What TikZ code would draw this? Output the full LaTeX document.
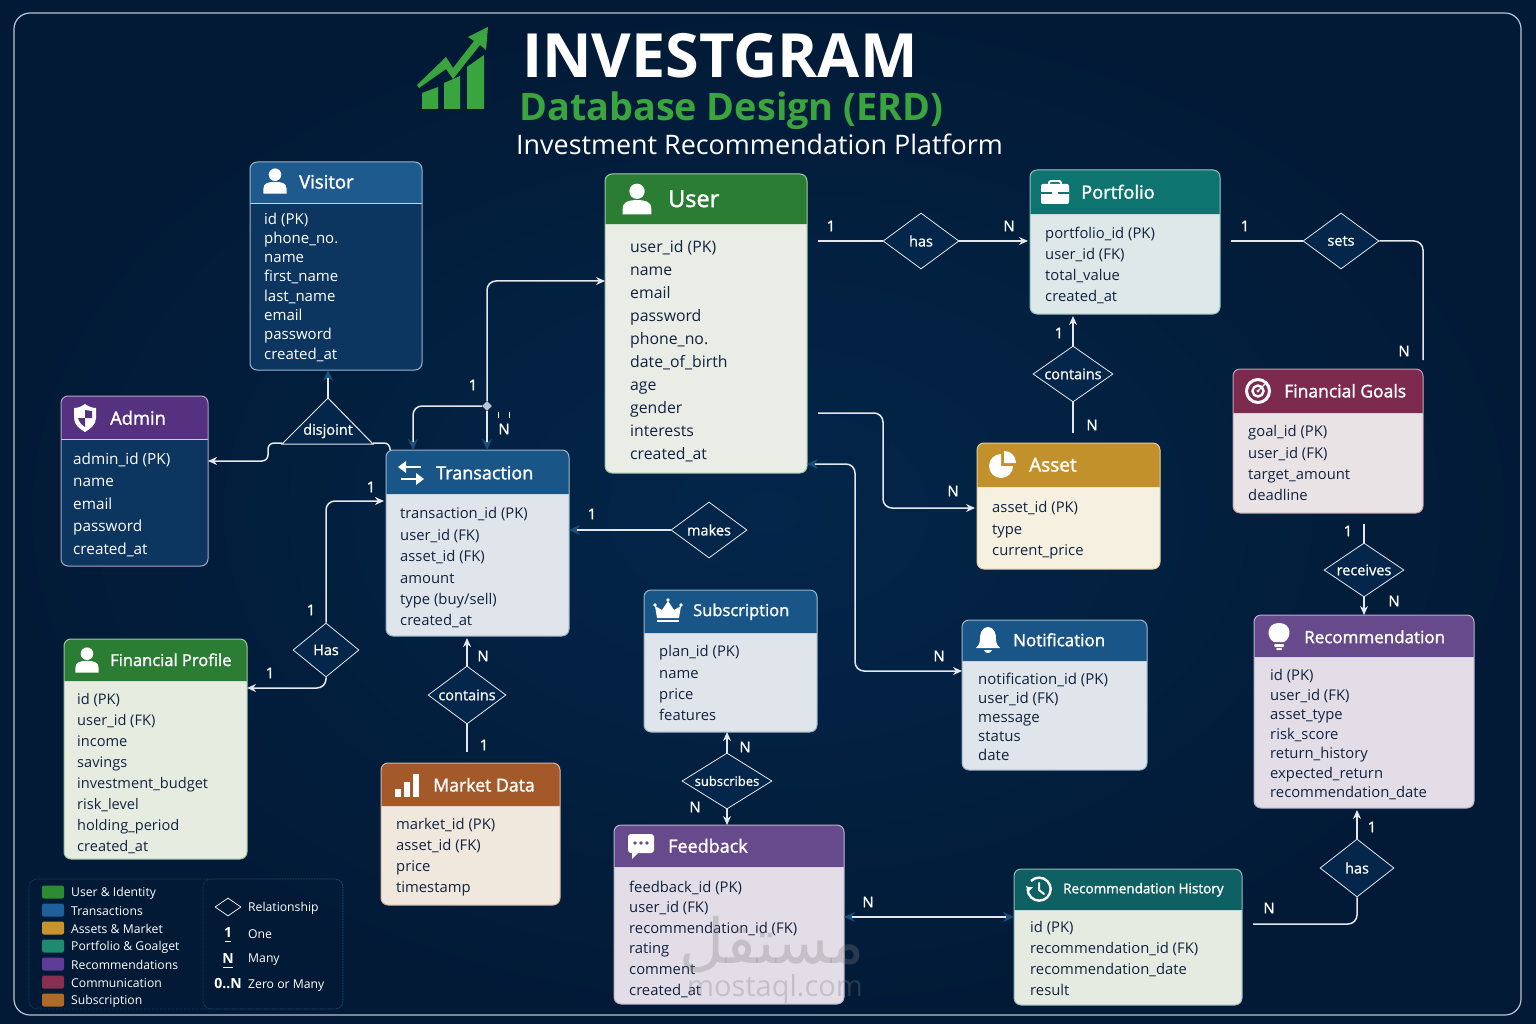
\documentclass[tikz,border=0pt]{standalone}
\usepackage{fontspec}
\setmainfont{Open Sans}
\newfontfamily\headfont[FakeBold=1.6]{Open Sans}
\newfontfamily\mediumfont[FakeBold=0.9]{Open Sans}
\newfontfamily\arabicfont[Script=Arabic]{DejaVu Sans}
\TeXXeTstate=1
\usetikzlibrary{arrows.meta, positioning, shapes.geometric, calc}
\definecolor{bgcenter}{HTML}{03264A}
\definecolor{bgouter}{HTML}{021A36}
\definecolor{framegray}{HTML}{B8C4D2}
\definecolor{tipblue}{HTML}{1A4F7C}
\definecolor{connwhite}{HTML}{E4E8EC}
\definecolor{inkdark}{HTML}{12233F}
\definecolor{usergreen}{HTML}{2A7D33}
\definecolor{transblue}{HTML}{1A5587}
\definecolor{visitblue}{HTML}{1E5A8E}
\definecolor{visitbody}{HTML}{0C3560}
\definecolor{adminpurple}{HTML}{55317F}
\definecolor{recpurple}{HTML}{674A8C}
\definecolor{tealhead}{HTML}{0E7470}
\definecolor{historyteal}{HTML}{0E6062}
\definecolor{goalred}{HTML}{7C2B4E}
\definecolor{assetgold}{HTML}{C2912B}
\definecolor{marketbrown}{HTML}{A4592B}
\definecolor{titlegreen}{HTML}{3AA53F}
\definecolor{userbody}{HTML}{EAECE6}
\definecolor{portbody}{HTML}{DFE8E8}
\definecolor{goalbody}{HTML}{E9E3E6}
\definecolor{assetbody}{HTML}{F5F0E0}
\definecolor{bluebody}{HTML}{DFE5EA}
\definecolor{purplebody}{HTML}{E2DDE7}
\definecolor{profilebody}{HTML}{E7ECE1}
\definecolor{marketbody}{HTML}{F1E8DD}
\definecolor{historybody}{HTML}{E6EBE2}
\definecolor{keygreen}{HTML}{2E8B32}
\definecolor{keyblue}{HTML}{1F5F9A}
\definecolor{keygold}{HTML}{C8932E}
\definecolor{keyteal}{HTML}{1F8A70}
\definecolor{keypurple}{HTML}{5F3C98}
\definecolor{keyred}{HTML}{8A2F50}
\definecolor{keyorange}{HTML}{B06A28}
\tikzset{
  entitybox/.style={rounded corners=7pt, anchor=north west, inner sep=0pt, outer sep=0pt},
  relation/.style={diamond, aspect=1.4, draw=connwhite, line width=.8pt, inner sep=0pt, fill=bgcenter, text=white, font=\fontsize{14.5}{16}\selectfont\mediumfont},
  conn/.style={draw=connwhite, line width=1.5pt, rounded corners=9pt},
  toarrow/.style={conn, -{Stealth[length=9pt, width=8pt, color=connwhite]}},
  toblue/.style={conn, -{Stealth[length=11pt, width=10pt, color=tipblue]}},
  card/.style={text=white, inner sep=0pt, font=\fontsize{15}{16}\selectfont\mediumfont},
  headtitle/.style={anchor=west, inner sep=0pt, text=white, font=\fontsize{#1}{#1}\selectfont\headfont},
  fieldlist/.style 2 args={anchor=north west, inner sep=0pt, align=left, text=inkdark, font=\fontsize{#1}{#2}\selectfont},
  legendtext/.style={anchor=west, inner sep=0pt, text=white, font=\fontsize{12.2}{14}\selectfont},
  panel/.style={draw=tipblue, densely dotted, line width=.6pt, rounded corners=8pt},
  personicon/.pic={
    \fill[white] (0,-7) circle (7pt);
    \fill[white] (-13,14) -- (-13,9) .. controls (-13,2) and (-7,1) .. (0,1) .. controls (7,1) and (13,2) .. (13,9) -- (13,14) -- cycle;
  },
  shieldicon/.pic={
    \fill[white] (0,-14) .. controls (-4,-11) and (-8,-10) .. (-11,-10) -- (-11,0) .. controls (-11,7) and (-5,11) .. (0,14) .. controls (5,11) and (11,7) .. (11,0) -- (11,-10) .. controls (8,-10) and (4,-11) .. (0,-14) -- cycle;
    \fill[adminpurple] (0,-8) -- (0,0) -- (7,0) -- (7,-7) -- cycle;
    \fill[adminpurple] (0,0) -- (-7,0) .. controls (-6,4) and (-3,7) .. (0,9) -- cycle;
  },
  caseicon/.pic={
    \draw[white, line width=1.8pt, rounded corners=1.5pt] (-6,-7) -- (-6,-11) -- (6,-11) -- (6,-7);
    \fill[white, rounded corners=2pt] (-14,-8) rectangle (14,12);
    \draw[tealhead, line width=1.2pt] (-14,1) -- (14,1);
    \fill[white] (-3,-1) rectangle (3,4);
  },
  targeticon/.pic={
    \draw[white, line width=3pt] (0,0) circle (11.5pt);
    \draw[white, line width=2.4pt] (0,0) circle (5.5pt);
    \fill[white] (0,0) circle (1.6pt);
    \draw[white, line width=1.2pt] (0,0) -- (9,-9);
  },
  pieicon/.pic={
    \fill[white] (-1,-11) arc[start angle=90, end angle=360, radius=12pt] -- (-1,1) -- cycle;
    \fill[white] (2,-14) -- (2,-2) -- (14,-2) .. controls (14,-9) and (9,-14) .. (2,-14) -- cycle;
  },
  swapicon/.pic={
    \draw[white, line width=2.6pt] (10,-6) -- (-6,-6);
    \fill[white] (-13,-6) -- (-5,-12) -- (-5,0) -- cycle;
    \draw[white, line width=2.6pt] (-10,6) -- (6,6);
    \fill[white] (13,6) -- (5,0) -- (5,12) -- cycle;
  },
  crownicon/.pic={
    \fill[white] (-11,7) -- (-13,-5) -- (-6,-1) -- (0,-10) -- (6,-1) -- (13,-5) -- (11,7) -- cycle;
    \fill[white] (-11,9) rectangle (11,11);
    \fill[white] (-13,-6) circle (1.8pt) (13,-6) circle (1.8pt) (0,-11) circle (1.8pt);
  },
  bellicon/.pic={
    \fill[white] (0,-13) .. controls (-7,-12) and (-8,-6) .. (-8,-1) .. controls (-8,4) and (-10,6) .. (-12,8) -- (12,8) .. controls (10,6) and (8,4) .. (8,-1) .. controls (8,-6) and (7,-12) .. (0,-13) -- cycle;
    \fill[white] (-4,10) .. controls (-3,14) and (3,14) .. (4,10) -- cycle;
  },
  bulbicon/.pic={
    \fill[white] (0,-13) .. controls (-13,-13) and (-13,2) .. (-5,6) -- (5,6) .. controls (13,2) and (13,-13) .. (0,-13) -- cycle;
    \fill[white, rounded corners=1pt] (-5,8) rectangle (5,11);
    \fill[white, rounded corners=1pt] (-3,12) rectangle (3,14);
  },
  barsicon/.pic={
    \fill[white] (-12,4) rectangle (-6,12);
    \fill[white] (-3,-3) rectangle (3,12);
    \fill[white] (6,-11) rectangle (12,12);
  },
  clockicon/.pic={
    \draw[white, line width=2.4pt] (-8,-8) arc[start angle=135, end angle=-180, radius=11.5pt];
    \fill[white] (-13,-3) -- (-10,-2) -- (-6,-2) -- (-11,3) -- cycle;
    \draw[white, line width=2pt, line cap=round, line join=round] (0,-6) -- (0,1) -- (5,5);
  },
  chaticon/.pic={
    \fill[white, rounded corners=3pt] (-13,-11) rectangle (13,8);
    \fill[white] (-9,6) -- (-9,14) -- (-1,6) -- cycle;
    \fill[recpurple] (-6,-2) circle (1.8pt) (0,-2) circle (1.8pt) (6,-2) circle (1.8pt);
  },
}
% entity card: name, x, y, width, height, header height, header colour, body colour
\newcommand{\entity}[8]{
  \node[entitybox, fill=#8, minimum width=#4pt, minimum height=#5pt] (#1) at (#2,#3) {};
  \begin{scope}
    \clip[rounded corners=7pt] (#1.north west) rectangle (#1.south east);
    \fill[#7] (#1.north west) rectangle ([yshift=-#6pt]#1.north east);
  \end{scope}
  \draw[white!75!#7, line width=.5pt] ([yshift=-#6pt]#1.north west) -- ([yshift=-#6pt]#1.north east);
  \draw[white!55!#7, line width=1pt, rounded corners=7pt] (#1.north west) rectangle (#1.south east);
}
\begin{document}
\begin{tikzpicture}[x=1pt, y=-1pt]
  \useasboundingbox (0,0) rectangle (1536,1024);
  % Background
  \shade[inner color=bgcenter, outer color=bgouter] (0,0) rectangle (1536,1024);
  \draw[framegray, line width=1.2pt, rounded corners=16pt] (14,13) rectangle (1521,1015);

  % Heading
  \node[anchor=base west, inner sep=0pt, text=white, font=\fontsize{61}{61}\selectfont\bfseries] (maintitle) at (522,78) {INVESTGRAM};
  \node[anchor=base west, inner sep=0pt, text=titlegreen, font=\fontsize{37.8}{38}\selectfont\bfseries] (subtitle) at (519,121) {Database Design (ERD)};
  \node[anchor=base west, inner sep=0pt, text=white, font=\fontsize{26.9}{27}\selectfont] (tagline) at (516,155) {Investment Recommendation Platform};
  % Logo
  \fill[titlegreen] (422,93) -- (438,87) -- (438,109) -- (422,109) -- cycle;
  \fill[titlegreen] (444,83) -- (460,76) -- (460,109) -- (444,109) -- cycle;
  \fill[titlegreen] (467,67) -- (484,55) -- (484,109) -- (467,109) -- cycle;
  \fill[titlegreen] (417,85) -- (446,57) -- (453,68) -- (474,41) -- (468,37) -- (488,27) -- (486,50) -- (480,45) -- (453,79) -- (446,69) -- (419,88) -- cycle;

  % Entities
  \entity{visitor}{250}{162}{172}{208}{41}{visitblue}{visitbody}
  \entity{admin}{61}{396}{147}{170}{43}{adminpurple}{visitbody}
  \entity{user}{605}{174}{202}{299}{50}{usergreen}{userbody}
  \entity{portfolio}{1030}{170}{190}{144}{44}{tealhead}{portbody}
  \entity{goals}{1233}{369}{190}{144}{44}{goalred}{goalbody}
  \entity{asset}{977}{443}{183}{126}{44}{assetgold}{assetbody}
  \entity{transaction}{386}{450}{183}{186}{44}{transblue}{bluebody}
  \entity{subscription}{644}{590}{173}{142}{43}{transblue}{bluebody}
  \entity{notification}{962}{620}{185}{150}{41}{transblue}{bluebody}
  \entity{recommendation}{1254}{615}{220}{193}{42}{recpurple}{purplebody}
  \entity{finprofile}{64}{639}{183}{220}{42}{usergreen}{profilebody}
  \entity{market}{381}{763}{179}{142}{43}{marketbrown}{marketbody}
  \entity{feedback}{614}{825}{230}{179}{42}{recpurple}{purplebody}
  \entity{rechistory}{1014}{869}{228}{136}{41}{historyteal}{historybody}

  % Titles
  \node[headtitle=18.5] (visitortitle) at (299,181.8) {Visitor};
  \node[headtitle=18.3] (admintitle) at (110,417.8) {Admin};
  \node[headtitle=23.5] (usertitle) at (668,198.8) {User};
  \node[headtitle=18.3] (portfoliotitle) at (1081,191.8) {Portfolio};
  \node[headtitle=17.5] (goalstitle) at (1284,390.8) {Financial Goals};
  \node[headtitle=19] (assettitle) at (1029,464.8) {Asset};
  \node[headtitle=18] (transactiontitle) at (436,472.8) {Transaction};
  \node[headtitle=16.5] (subscriptiontitle) at (693,611.8) {Subscription};
  \node[headtitle=17] (notificationtitle) at (1013,639.8) {Notification};
  \node[headtitle=17] (recommendationtitle) at (1304,636.8) {Recommendation};
  \node[headtitle=16.5] (finprofiletitle) at (110,659.8) {Financial Profile};
  \node[headtitle=17.7] (markettitle) at (433,784.8) {Market Data};
  \node[headtitle=18] (feedbacktitle) at (668,845.8) {Feedback};
  \node[headtitle=13.5] (rechistorytitle) at (1063,889.8) {Recommendation History};

  % Icons
  \pic[scale=.9] at (275,181) {personicon};
  \pic at (85,418) {shieldicon};
  \pic[scale=1.1] at (637,199) {personicon};
  \pic at (1055,192) {caseicon};
  \pic at (1258,391) {targeticon};
  \pic at (1002,465) {pieicon};
  \pic at (411,473) {swapicon};
  \pic at (668,611) {crownicon};
  \pic at (988,640) {bellicon};
  \pic at (1279,636) {bulbicon};
  \pic[scale=.9] at (87,660) {personicon};
  \pic at (407,785) {barsicon};
  \pic at (1039,889) {clockicon};
  \pic at (641,845) {chaticon};

  % Fields
  \node[fieldlist={15}{19.3}, text=white] (visitorfields) at (264,212.5) {id (PK)\\phone\_no.\\name\\first\_name\\last\_name\\email\\password\\created\_at};
  \node[fieldlist={15.3}{22.5}, text=white] (adminfields) at (73,452.5) {admin\_id (PK)\\name\\email\\password\\created\_at};
  \node[fieldlist={15.8}{23}] (userfields) at (630,240) {user\_id (PK)\\name\\email\\password\\phone\_no.\\date\_of\_birth\\age\\gender\\interests\\created\_at};
  \node[fieldlist={14.8}{21}] (portfoliofields) at (1045,226.5) {portfolio\_id (PK)\\user\_id (FK)\\total\_value\\created\_at};
  \node[fieldlist={14.8}{21.3}] (goalsfields) at (1248,425.5) {goal\_id (PK)\\user\_id (FK)\\target\_amount\\deadline};
  \node[fieldlist={14.8}{21.5}] (assetfields) at (992,501.5) {asset\_id (PK)\\type\\current\_price};
  \node[fieldlist={14.8}{21.4}] (transactionfields) at (400,507.5) {transaction\_id (PK)\\user\_id (FK)\\asset\_id (FK)\\amount\\type (buy/sell)\\created\_at};
  \node[fieldlist={14.8}{21.2}] (subscriptionfields) at (659,645.5) {plan\_id (PK)\\name\\price\\features};
  \node[fieldlist={15}{19}] (notificationfields) at (978,672.5) {notification\_id (PK)\\user\_id (FK)\\message\\status\\date};
  \node[fieldlist={14.8}{19.5}] (recommendationfields) at (1270,669.5) {id (PK)\\user\_id (FK)\\asset\_type\\risk\_score\\return\_history\\expected\_return\\recommendation\_date};
  \node[fieldlist={14.6}{20.9}] (finprofilefields) at (77,693.5) {id (PK)\\user\_id (FK)\\income\\savings\\investment\_budget\\risk\_level\\holding\_period\\created\_at};
  \node[fieldlist={14.8}{21}] (marketfields) at (396,818.5) {market\_id (PK)\\asset\_id (FK)\\price\\timestamp};
  \node[fieldlist={14.8}{20.6}] (feedbackfields) at (629,880.5) {feedback\_id (PK)\\user\_id (FK)\\recommendation\_id (FK)\\rating\\comment\\created\_at};
  \node[fieldlist={14.8}{20.7}] (rechistoryfields) at (1030,921.5) {id (PK)\\recommendation\_id (FK)\\recommendation\_date\\result};

  % Relationships
  \node[relation, minimum width=76pt, minimum height=56pt] (hasportfolio) at (921,241) {has};
  \node[relation, minimum width=76pt, minimum height=56pt] (sets) at (1341,241) {sets};
  \node[relation, minimum width=80pt, minimum height=56pt] (containsasset) at (1073,374) {contains};
  \node[relation, minimum width=78pt, minimum height=58pt] (containsmarket) at (467,695) {contains};
  \node[relation, minimum width=76pt, minimum height=56pt] (makes) at (709,530) {makes};
  \node[relation, minimum width=66pt, minimum height=54pt] (hasprofile) at (326,650) {Has};
  \node[relation, aspect=1.6, minimum width=90pt, minimum height=56pt, font=\fontsize{13}{14}\selectfont\mediumfont] (subscribes) at (727,781) {subscribes};
  \node[relation, minimum width=80pt, minimum height=54pt] (receives) at (1364,570) {receives};
  \node[relation, minimum width=74pt, minimum height=58pt] (hashistory) at (1357,868) {has};
  \draw[connwhite, line width=1pt, fill=bgcenter] (328,398) -- (373,444) -- (282,444) -- cycle;
  \node[text=white, inner sep=0pt, font=\fontsize{14.5}{16}\selectfont\mediumfont] (disjoint) at (328,431) {disjoint};
  \coordinate (disjointtop) at (328,398);
  \coordinate (disjointleft) at (282,443);
  \coordinate (disjointright) at (373,443);
  \node[diamond, fill=framegray, minimum width=10pt, minimum height=10pt, inner sep=0pt] (junction) at (487,406) {};

  % Connectors
  \draw[conn, shorten <=11pt] (user.east |- hasportfolio.west) -- (hasportfolio.west);
  \draw[toarrow, shorten >=2pt] (hasportfolio.east) -- (portfolio.west |- hasportfolio.east);
  \draw[conn, shorten <=11pt] (portfolio.east |- sets.west) -- (sets.west);
  \draw[conn, shorten >=9pt] (sets.east) -| (goals.north east);
  \draw[toarrow, shorten >=2pt] (containsasset.north) -- (portfolio.south -| containsasset.north);
  \draw[conn, shorten >=10pt] (containsasset.south) -- (asset.north -| containsasset.south);
  \draw[toarrow, shorten <=11pt, shorten >=2pt] (user.east |- 0,413) -| (883,508) -- (asset.west |- 0,508);
  \draw[conn, {Stealth[length=11pt, width=10pt, color=tipblue]}-{Stealth[length=9pt, width=8pt, color=connwhite]}] (user.east |- 0,464) -| (855,671) -- (notification.west |- 0,671);
  \draw[toarrow] (junction.north) |- (user.west |- 0,281);
  \draw[toblue] (junction.south) -- (transaction.north -| junction.south);
  \draw[toblue] (junction.west) -| (transaction.north -| 413,0);
  \draw[toblue] (disjointtop) -- (visitor.south -| disjointtop);
  \draw[toarrow, rounded corners=6pt] (disjointleft) -- (268,443) -- (268,461) -- (admin.east |- 0,461);
  \draw[conn, rounded corners=6pt] (disjointright) -- (390,443) -- (390,450);
  \draw[toarrow, shorten >=2pt] (hasprofile.north) |- (transaction.west |- 0,501);
  \draw[toarrow] (hasprofile.south) |- (finprofile.east |- 0,688);
  \draw[toblue] (makes.west) -- (transaction.east |- makes.west);
  \draw[toarrow, shorten >=2pt] (containsmarket.north) -- (transaction.south -| containsmarket.north);
  \draw[conn, shorten >=11pt] (containsmarket.south) -- (market.north -| containsmarket.south);
  \draw[toarrow] (subscribes.north) -- (subscription.south -| subscribes.north);
  \draw[toarrow] (subscribes.south) -- (feedback.north -| subscribes.south);
  \draw[conn, shorten <=11pt] (goals.south -| receives.north) -- (receives.north);
  \draw[toarrow] (receives.south) -- (recommendation.north -| receives.south);
  \draw[toarrow, shorten >=2pt] (hashistory.north) -- (recommendation.south -| hashistory.north);
  \draw[conn, shorten >=11pt] (hashistory.south) |- (rechistory.east |- 0,924);
  \draw[conn, {Stealth[length=11pt, width=10pt, color=tipblue]}-{Stealth[length=11pt, width=10pt, color=tipblue]}] (feedback.east |- 0,917) -- (rechistory.west |- 0,917);

  % Cardinalities
  \foreach \cx/\cy/\ct in {831/226/1, 1009/226/N, 1245/226/1, 1404/351/N, 1059/333/1, 1092/425/N, 953/491/N, 939/656/N, 473/385/1, 504/429/N, 371/487/1, 311/610/1, 270/673/1, 592/514/1, 483/656/N, 484/745/1, 745/747/N, 695/807/N, 1348/531/1, 1394/601/N, 1372/827/1, 1269/908/N, 868/902/N}
    \node[card] (card\cx) at (\cx,\cy) {\ct};
  \draw[white, line width=1pt] (498.5,412) -- (498.5,418) (509,412) -- (509,418);

  % Legend
  \draw[panel] (29,879) rectangle (343,1009);
  \draw[panel] (203,879) rectangle (343,1009);
  \foreach \ly/\lcol/\ltext in {892/keygreen/User \& Identity, 910/keyblue/Transactions, 928/keygold/Assets \& Market, 946/keyteal/Portfolio \& Goalget, 964/keypurple/Recommendations, 982/keyred/Communication, 1000/keyorange/Subscription} {
    \fill[\lcol, rounded corners=2pt] (42,\ly-6.5) rectangle (64,\ly+6.5);
    \node[legendtext] (legend\ly) at (71,\ly+1) {\ltext};
  }
  \node[diamond, draw=white, line width=.7pt, minimum width=26pt, minimum height=18pt, inner sep=0pt] (legenddiamond) at (228,907) {};
  \node[legendtext] (legendrel) at (248,908) {Relationship};
  \node[card, font=\fontsize{14}{15}\selectfont\bfseries] (legendone) at (228,932) {1};
  \node[legendtext] (legendonetext) at (248,934) {One};
  \node[card, font=\fontsize{14}{15}\selectfont\bfseries] (legendmany) at (228,958) {N};
  \node[legendtext] (legendmanytext) at (248,960) {Many};
  \node[card, font=\fontsize{14}{15}\selectfont\bfseries] (legendzero) at (228,984) {0..N};
  \node[legendtext] (legendzerotext) at (248,986) {Zero or Many};
  \draw[white, line width=1pt] (225,941) -- (231,941) (223,967) -- (233,967);

  % Watermark
  \node[inner sep=0pt, text=gray, opacity=.3, font=\fontsize{62}{62}\selectfont] (markarabic) at (772,945) {\arabicfont\beginR مستقل\endR};
  \node[inner sep=0pt, text=gray, opacity=.3, font=\fontsize{29}{29}\selectfont] (markurl) at (775,989) {mostaql.com};
\end{tikzpicture}
\end{document}
